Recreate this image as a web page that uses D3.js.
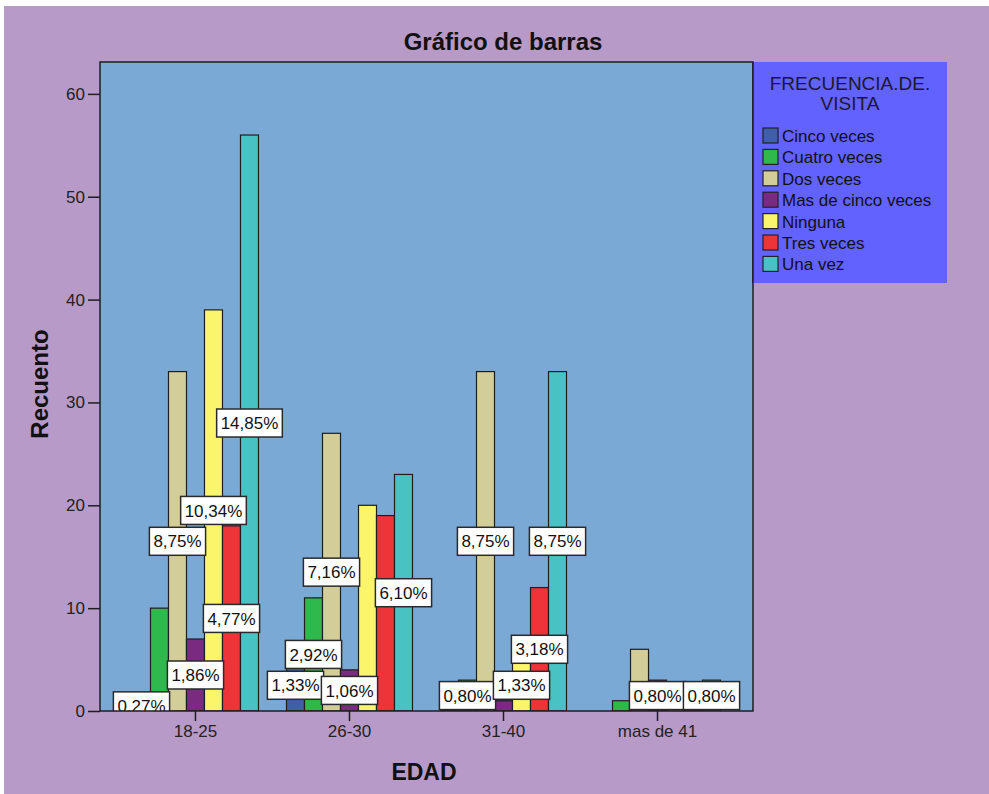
<!DOCTYPE html>
<html>
<head>
<meta charset="utf-8">
<script src="https://cdn.jsdelivr.net/npm/d3@7"></script>
<style>
  html, body { margin: 0; padding: 0; background: #ffffff; }
  svg { display: block; font-family: "Liberation Sans", Arial, sans-serif; }
</style>
</head>
<body>
<script>
// Age groups on the x axis
const ageGroups = ["18-25", "26-30", "31-40", "mas de 41"];

// Visit-frequency series, in legend order
const seriesNames = ["Cinco veces", "Cuatro veces", "Dos veces", "Mas de cinco veces", "Ninguna", "Tres veces", "Una vez"];
const seriesColors = ["#3f5fa9", "#2fb84b", "#d3cd99", "#7b2a81", "#fbf56b", "#ee3339", "#48c2c2"];

// Counts per age group for each series
const cincoVeces      = [1, 5, 2, 0];
const cuatroVeces     = [10, 11, 3, 1];
const dosVeces        = [33, 27, 33, 6];
const masDeCincoVeces = [7, 4, 1, 3];
const ninguna         = [39, 20, 5, 1];
const tresVeces       = [18, 19, 12, 1];
const unaVez          = [56, 23, 33, 3];

// Y axis ticks
const yTicks = [0, 10, 20, 30, 40, 50, 60];

// Bars that carry a percentage label, per age group
const labelled1825 = ["Cinco veces", "Dos veces", "Mas de cinco veces", "Ninguna", "Tres veces", "Una vez"];
const labelled2630 = ["Cinco veces", "Cuatro veces", "Dos veces", "Mas de cinco veces", "Una vez"];
const labelled3140 = ["Cuatro veces", "Dos veces", "Ninguna", "Tres veces", "Una vez"];
const labelled41   = ["Mas de cinco veces", "Una vez"];

const seriesValues = [cincoVeces, cuatroVeces, dosVeces, masDeCincoVeces, ninguna, tresVeces, unaVez];
const labelledByAge = [labelled1825, labelled2630, labelled3140, labelled41];

const rows = [];
ageGroups.forEach((age, i) => {
  seriesNames.forEach((s, j) => {
    rows.push({ age, series: s, value: seriesValues[j][i], labelled: labelledByAge[i].includes(s) });
  });
});
const total = d3.sum(rows, d => d.value);
const pct = v => (v / total * 100).toFixed(2).replace(".", ",") + "%";

const W = 989, H = 794;
const plot = { left: 100, top: 62, right: 753, bottom: 711 };

const svg = d3.select("body").append("svg").attr("width", W).attr("height", H);

// page background
svg.append("rect").attr("x", 4).attr("y", 6).attr("width", W - 4).attr("height", H - 6).attr("fill", "#b89ac8");

// scales
const x = d3.scaleBand().domain(ageGroups).range([plot.left, plot.right]).paddingInner(0).paddingOuter(0.12);
const xs = d3.scaleBand().domain(seriesNames).range([(x.bandwidth() - 126) / 2, (x.bandwidth() + 126) / 2]);
const y = d3.scaleLinear().domain([0, 63.1]).range([plot.bottom, plot.top]);
const color = d3.scaleOrdinal().domain(seriesNames).range(seriesColors);

// plot background
svg.append("rect")
  .attr("x", plot.left).attr("y", plot.top)
  .attr("width", plot.right - plot.left).attr("height", plot.bottom - plot.top)
  .attr("fill", "#7ba9d5");

svg.append("defs").append("clipPath").attr("id", "plotClip")
  .append("rect")
  .attr("x", plot.left).attr("y", plot.top)
  .attr("width", plot.right - plot.left).attr("height", plot.bottom - plot.top);

// bars
const barG = svg.append("g").attr("clip-path", "url(#plotClip)");
barG.selectAll("rect.bar")
  .data(rows.filter(d => d.value > 0))
  .join("rect")
  .attr("class", "bar")
  .attr("x", d => x(d.age) + xs(d.series))
  .attr("y", d => y(d.value))
  .attr("width", xs.bandwidth())
  .attr("height", d => y(0) - y(d.value))
  .attr("fill", d => color(d.series))
  .attr("stroke", "#1e1e1e")
  .attr("stroke-width", 1.2);

// percentage labels at bar mid-height
const labG = barG.append("g");
const labs = labG.selectAll("g.lab")
  .data(rows.filter(d => d.labelled))
  .join("g")
  .attr("class", "lab")
  .attr("transform", d => `translate(${x(d.age) + xs(d.series) + xs.bandwidth() / 2},${y(d.value / 2)})`);
labs.append("text")
  .attr("text-anchor", "middle")
  .attr("dy", "0.36em")
  .attr("font-size", 17)
  .attr("fill", "#111")
  .text(d => pct(d.value));
labs.each(function () {
  const g = d3.select(this);
  const w = g.select("text").node().getComputedTextLength() + 8;
  g.insert("rect", "text")
    .attr("x", -w / 2).attr("y", -14)
    .attr("width", w).attr("height", 28)
    .attr("fill", "#ffffff")
    .attr("stroke", "#2a2a2a")
    .attr("stroke-width", 1.5);
});

// plot frame
svg.append("rect")
  .attr("x", plot.left).attr("y", plot.top)
  .attr("width", plot.right - plot.left).attr("height", plot.bottom - plot.top)
  .attr("fill", "none").attr("stroke", "#1e1e1e").attr("stroke-width", 1.5);

// axes
const yAxis = svg.append("g")
  .attr("transform", `translate(${plot.left},0)`)
  .call(d3.axisLeft(y).tickValues(yTicks).tickSize(12).tickPadding(3));
const xAxis = svg.append("g")
  .attr("transform", `translate(0,${plot.bottom})`)
  .call(d3.axisBottom(x).tickSize(10).tickPadding(4));
[yAxis, xAxis].forEach(a => {
  a.select(".domain").remove();
  a.selectAll(".tick line").attr("stroke", "#1e1e1e").attr("stroke-width", 1.5);
  a.selectAll(".tick text").attr("font-size", 17).attr("fill", "#222")
    .attr("font-family", "\"Liberation Sans\", Arial, sans-serif");
});

// titles
svg.append("text")
  .attr("x", 503).attr("y", 50)
  .attr("text-anchor", "middle")
  .attr("font-size", 24).attr("font-weight", "bold").attr("fill", "#111")
  .text("Gráfico de barras");
svg.append("text")
  .attr("x", 424).attr("y", 780)
  .attr("text-anchor", "middle")
  .attr("font-size", 23).attr("font-weight", "bold").attr("fill", "#111")
  .text("EDAD");
svg.append("text")
  .attr("transform", "translate(48,384) rotate(-90)")
  .attr("text-anchor", "middle")
  .attr("font-size", 24).attr("font-weight", "bold").attr("fill", "#111")
  .text("Recuento");

// legend
const leg = svg.append("g");
leg.append("rect")
  .attr("x", plot.right).attr("y", plot.top)
  .attr("width", 947 - plot.right).attr("height", 283 - plot.top)
  .attr("fill", "#6262fe");
leg.append("line")
  .attr("x1", plot.right).attr("x2", plot.right)
  .attr("y1", plot.top).attr("y2", 283)
  .attr("stroke", "#1e1e1e").attr("stroke-width", 1.5);
const legTitle = leg.append("text")
  .attr("text-anchor", "middle")
  .attr("font-size", 19).attr("fill", "#1a1a2a");
legTitle.append("tspan").attr("x", 850).attr("y", 90).text("FRECUENCIA.DE.");
legTitle.append("tspan").attr("x", 850).attr("y", 110).text("VISITA");

const items = leg.selectAll("g.item")
  .data(seriesNames)
  .join("g")
  .attr("class", "item")
  .attr("transform", (d, i) => `translate(763,${128 + i * 21.4})`);
items.append("rect")
  .attr("width", 15).attr("height", 15)
  .attr("fill", d => color(d))
  .attr("stroke", "#222").attr("stroke-width", 1.2);
items.append("text")
  .attr("x", 19).attr("y", 14)
  .attr("font-size", 17).attr("fill", "#111")
  .text(d => d);
</script>
</body>
</html>
